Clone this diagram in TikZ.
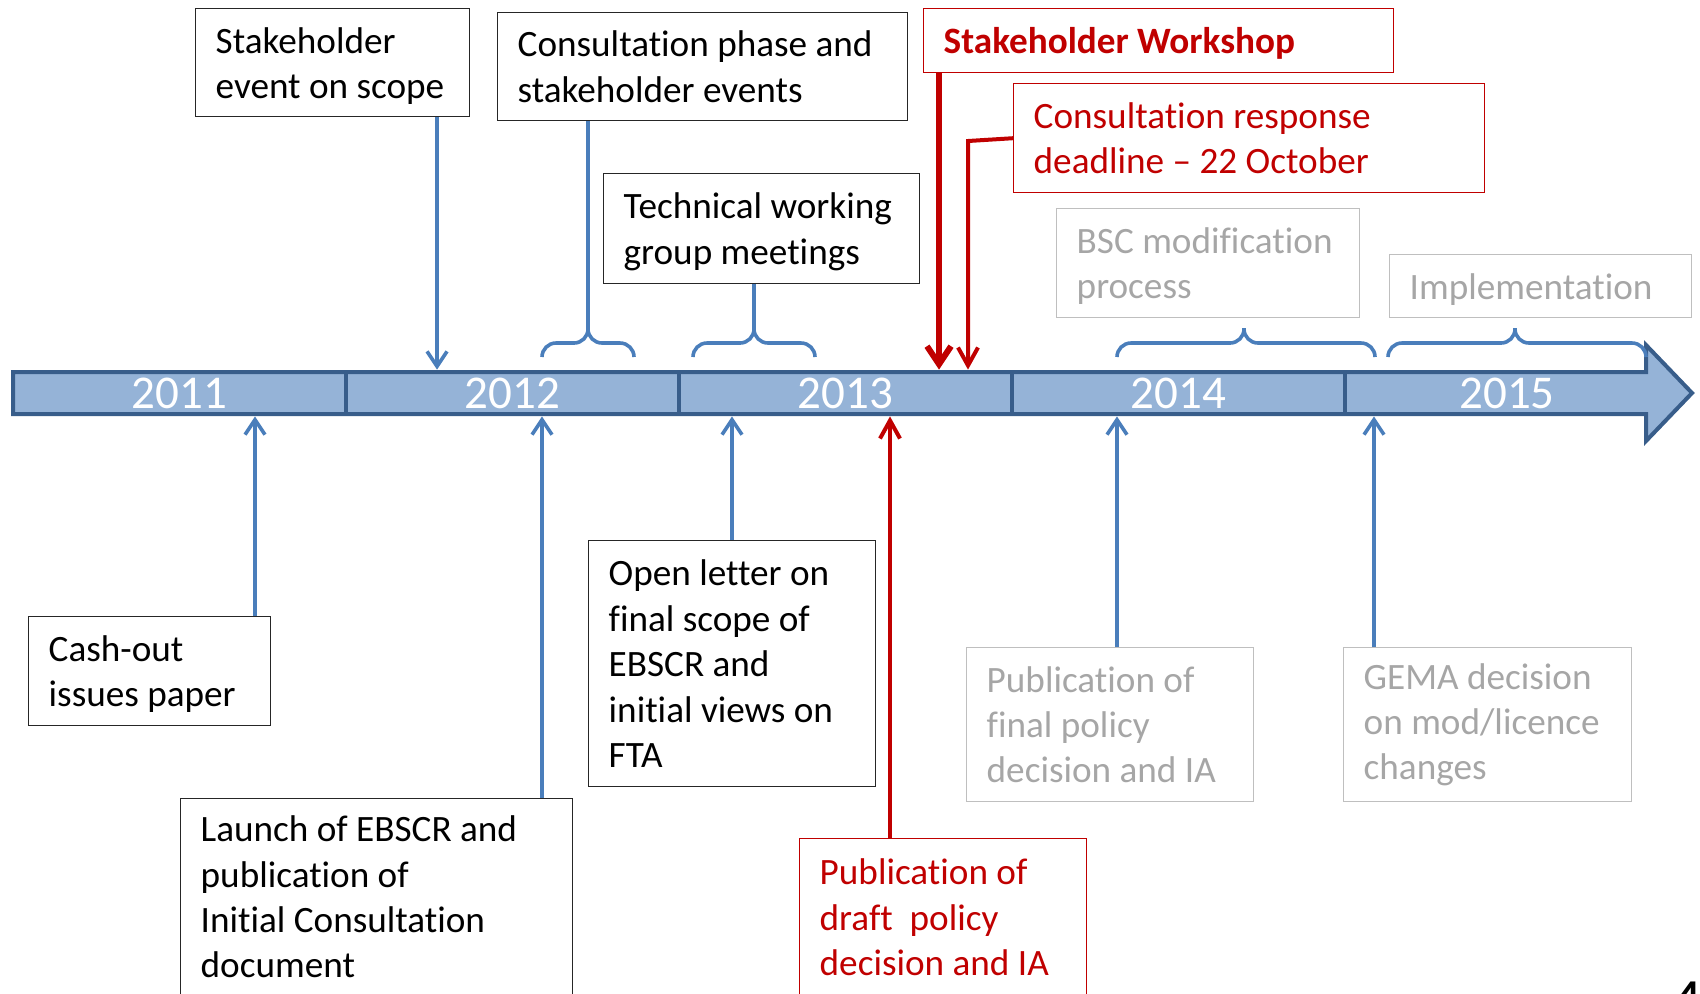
\documentclass[tikz,border=0pt]{standalone}
\usepackage{fontspec}
\setmainfont{Carlito}[Ligatures=NoCommon]
\usetikzlibrary{arrows.meta,positioning}
\definecolor{BarFill}{HTML}{95B3D7}
\definecolor{BarEdge}{HTML}{385D8A}
\definecolor{LinkBlue}{HTML}{4A7EBB}
\definecolor{KeyRed}{HTML}{C00000}
\definecolor{FadedText}{HTML}{A6A6A6}
\definecolor{FadedEdge}{HTML}{BFBFBF}

\begin{document}
\begin{tikzpicture}[x=0.5pt,y=-0.5pt,
    every node/.style={font=\fontsize{18.6}{22.7}\selectfont},
    event/.style={draw=black!85,line width=0.7pt,anchor=north west,align=flush left,
                  inner xsep=10pt,inner ysep=0pt},
    lowered/.style={text height=16pt},
    keyevent/.style={event,draw=KeyRed,text=KeyRed},
    laterevent/.style={event,draw=FadedEdge,text=FadedText},
    yearseg/.style={minimum height=23pt,inner sep=0pt,text=white,
                    font=\fontsize{23.5}{28}\selectfont},
    link/.style={LinkBlue,line width=1.8pt},
    linkarrow/.style={link,-{Straight Barb[length=7.5pt,width=10pt]}},
    span/.style={link,rounded corners=7pt},
    redarrow/.style={KeyRed,line width=2pt,-{Straight Barb[length=9pt,width=10pt]}}]
  \useasboundingbox (0,0) rectangle (1700,993);

  % the year bar
  \draw[BarEdge,fill=BarFill,line width=2pt]
    (13,372) -- (1646,372) -- (1646,345) -- (1692,393) -- (1646,441) -- (1646,414) -- (13,414) -- cycle;
  \foreach \x in {346,679,1012,1345}
    \draw[BarEdge,line width=2pt] (\x,372) -- (\x,414);
  \node[yearseg,minimum width=166.5pt] (y2011) at (179.5,393) {2011};
  \node[yearseg,minimum width=166.5pt] (y2012) at (512.5,393) {2012};
  \node[yearseg,minimum width=166.5pt] (y2013) at (845.5,393) {2013};
  \node[yearseg,minimum width=166.5pt] (y2014) at (1178.5,393) {2014};
  \node[yearseg] (y2015) at (1507,393) {2015};

  % events above the bar
  \node[event,lowered,text width=117pt,minimum height=54pt] (scope) at (195,8) {Stakeholder\\event on scope};
  \node[event,text width=185pt,minimum height=54pt] (consult) at (497,12) {Consultation phase and\\stakeholder events};
  \node[event,lowered,text width=138pt,minimum height=55pt] (techwg) at (603,173) {Technical working\\group meetings};
  \node[keyevent,lowered,font=\fontsize{18.6}{22.7}\selectfont\bfseries,text width=215pt,minimum height=32pt]
    (workshop) at (923,8) {Stakeholder Workshop};
  \node[keyevent,text width=215.5pt,minimum height=54.5pt] (deadline) at (1013,83) {Consultation response\\deadline -- 22 October};
  \node[laterevent,lowered,text width=131.5pt,minimum height=54.5pt] (bscmod) at (1056,208) {BSC modification\\process};
  \node[laterevent,lowered,text width=131pt,minimum height=31.5pt] (implement) at (1389,254) {Implementation};

  % events below the bar
  \node[event,lowered,text width=101pt,minimum height=54.5pt] (cashout) at (28,616) {Cash-out\\issues paper};
  \node[event,lowered,text width=176pt,inner ysep=5.5pt,text depth=80pt] (launch) at (180,798)
    {Launch of EBSCR and\\publication of\\Initial Consultation\\document};
  \node[event,text width=123.5pt,minimum height=123pt] (openletter) at (588,540)
    {Open letter on\\final scope of\\EBSCR and\\initial views on\\FTA};
  \node[keyevent,lowered,text width=123.5pt,inner ysep=7pt,text depth=60pt] (draftpub) at (799,838)
    {Publication of\\draft\ \ policy\\decision and IA};
  \node[laterevent,text width=123.5pt,minimum height=77pt] (finalpub) at (966,647)
    {Publication of\\final policy\\decision and IA};
  \node[laterevent,text width=124pt,minimum height=77pt] (gema) at (1343,647)
    {GEMA decision\\on mod/licence\\changes};

  % where the links meet the bar
  \coordinate (mScope) at (437,0);
  \coordinate (mWorkshop) at (939,0);
  \coordinate (dBend) at (968,141);
  \coordinate (mCash) at (255,0);
  \coordinate (mLaunch) at (542,0);
  \coordinate (mOpen) at (732,0);
  \coordinate (mDraft) at (890,0);
  \coordinate (mFinal) at (1117,0);
  \coordinate (mGema) at (1374,0);
  \coordinate (bConsult) at (588,328);
  \coordinate (bTech) at (754,328);

  % braces over the periods
  \foreach \xl/\xm/\xr in {542/588/634,693/754/815,1117/1244/1375,1388/1515/1646}{
    \draw[span] (\xl,357) |- (\xm,343) -- (\xm,328);
    \draw[span] (\xr,357) |- (\xm,343) -- (\xm,328);
  }
  \draw[link] (consult.south -| bConsult) -- (bConsult);
  \draw[link] (techwg.south -| bTech) -- (bTech);

  \draw[linkarrow] (scope.south -| mScope) -- (mScope |- y2012.north);
  \draw[redarrow,line width=3pt,-{Straight Barb[length=9pt,width=12pt]}]
    (workshop.south -| mWorkshop) -- (mWorkshop |- y2013.north);
  \draw[redarrow] (deadline.west) -- (dBend) -- (dBend |- y2013.north);

  \draw[linkarrow] (cashout.north -| mCash) -- (mCash |- y2011.south);
  \draw[linkarrow] (launch.north -| mLaunch) -- (mLaunch |- y2012.south);
  \draw[linkarrow] (openletter.north -| mOpen) -- (mOpen |- y2013.south);
  \draw[redarrow] (draftpub.north -| mDraft) -- (mDraft |- y2013.south);
  \draw[linkarrow] (finalpub.north -| mFinal) -- (mFinal |- y2014.south);
  \draw[linkarrow] (gema.north -| mGema) -- (mGema |- y2015.south);

  \node[anchor=north west,inner sep=0pt,font=\fontsize{22}{26}\selectfont\bfseries] (pagenum) at (1677,982) {4};
\end{tikzpicture}
\end{document}
